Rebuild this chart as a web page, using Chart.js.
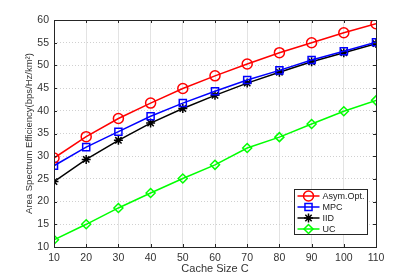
<!DOCTYPE html>
<html>
<head>
<meta charset="utf-8">
<title>Area Spectrum Efficiency vs Cache Size</title>
<script src="https://cdn.jsdelivr.net/npm/chart.js@4.4.0/dist/chart.umd.min.js"></script>
<style>
  html, body { margin: 0; padding: 0; background: #fff; }
  #wrap { width: 415px; height: 277px; position: relative; }
</style>
</head>
<body>
<div id="wrap"><canvas id="chart"></canvas></div>
<script>
// cache size C
const cacheSizes = [10, 20, 30, 40, 50, 60, 70, 80, 90, 100, 110];

// series values
const asymOpt = [29.6, 34.3, 38.3, 41.7, 44.9, 47.7, 50.3, 52.8, 55.0, 57.2, 59.2];
const mpc     = [27.9, 32.0, 35.4, 38.8, 41.7, 44.3, 46.8, 48.9, 51.2, 53.1, 55.1];
const iid     = [24.4, 29.3, 33.5, 37.3, 40.5, 43.4, 46.1, 48.5, 50.8, 52.8, 54.8];
const uc      = [11.6, 15.0, 18.6, 21.9, 25.1, 28.1, 31.8, 34.2, 37.1, 39.9, 42.3];

const seriesNames = ['Asym.Opt.', 'MPC', 'IID', 'UC'];
const seriesColors = ['#ff0000', '#0000ff', '#000000', '#00ff00'];
const seriesMarkers = ['circle', 'rect', 'star', 'rectRot'];
const seriesRadius = [5, 5, 4.5, 4.5];

const yTicks = [10, 15, 20, 25, 30, 35, 40, 45, 50, 55, 60];
const xTicks = [10, 20, 30, 40, 50, 60, 70, 80, 90, 100, 110];

const FONT = '"Liberation Sans", Arial, Helvetica, sans-serif';

function toPoints(values) {
    return cacheSizes.map((c, i) => ({ x: c, y: values[i] }));
}

const allSeries = [asymOpt, mpc, iid, uc];
const datasets = allSeries.map((vals, i) => ({
    label: seriesNames[i],
    data: toPoints(vals),
    borderColor: seriesColors[i],
    backgroundColor: 'transparent',
    borderWidth: 1.5,
    pointStyle: seriesMarkers[i],
    pointRadius: seriesRadius[i],
    pointBorderWidth: 1.5,
    pointBorderColor: seriesColors[i],
    pointBackgroundColor: 'transparent',
    tension: 0
}));

// box, inward ticks and the matlab-like legend inside the axes
const matlabFrame = {
    id: 'matlabFrame',
    afterDraw(chart) {
        const ctx = chart.ctx;
        const a = chart.chartArea;
        const xs = chart.scales.x, ys = chart.scales.y;
        ctx.save();
        ctx.strokeStyle = '#262626';
        ctx.lineWidth = 1;
        ctx.setLineDash([]);
        ctx.strokeRect(Math.round(a.left) + 0.5, Math.round(a.top) + 0.5,
            Math.round(a.right - a.left), Math.round(a.bottom - a.top));
        ctx.beginPath();
        xTicks.forEach(v => {
            const px = Math.round(xs.getPixelForValue(v)) + 0.5;
            ctx.moveTo(px, a.bottom); ctx.lineTo(px, a.bottom - 3);
            ctx.moveTo(px, a.top); ctx.lineTo(px, a.top + 3);
        });
        yTicks.forEach(v => {
            const py = Math.round(ys.getPixelForValue(v)) + 0.5;
            ctx.moveTo(a.left, py); ctx.lineTo(a.left + 3, py);
            ctx.moveTo(a.right, py); ctx.lineTo(a.right - 3, py);
        });
        ctx.stroke();

        // legend
        const boxW = 73, boxH = 45;
        const bx = Math.round(a.right - 9 - boxW) + 0.5;
        const by = Math.round(a.bottom - 13 - boxH) + 0.5;
        ctx.fillStyle = '#ffffff';
        ctx.fillRect(bx, by, boxW, boxH);
        ctx.strokeStyle = '#262626';
        ctx.strokeRect(bx, by, boxW, boxH);
        ctx.textBaseline = 'middle';
        ctx.textAlign = 'left';
        chart.data.datasets.forEach((ds, i) => {
            const ly = by + 6.5 + i * 11;
            const x0 = bx + 3, x1 = bx + 25;
            ctx.strokeStyle = ds.borderColor;
            ctx.lineWidth = 1.5;
            ctx.beginPath();
            ctx.moveTo(x0, ly); ctx.lineTo(x1, ly);
            ctx.stroke();
            ctx.fillStyle = 'rgba(0,0,0,0)';
            Chart.helpers.drawPoint(ctx, {
                pointStyle: ds.pointStyle,
                radius: ds.pointRadius,
                rotation: 0,
                borderWidth: 1.5
            }, (x0 + x1) / 2, ly);
            ctx.fillStyle = '#1a1a1a';
            ctx.font = '9px ' + FONT;
            ctx.fillText(ds.label, bx + 28, ly + 0.5);
        });
        ctx.restore();
    }
};

new Chart(document.getElementById('chart').getContext('2d'), {
    type: 'line',
    data: { datasets: datasets },
    options: {
        responsive: true,
        maintainAspectRatio: false,
        animation: false,
        layout: { padding: { left: 24, right: 39, top: 20, bottom: 1 } },
        plugins: {
            legend: { display: false },
            tooltip: { enabled: false }
        },
        scales: {
            x: {
                type: 'linear',
                min: 10,
                max: 110,
                afterBuildTicks: s => { s.ticks = xTicks.map(v => ({ value: v })); },
                afterFit: s => { s.height = 29; },
                grid: { color: '#e3e3e3', lineWidth: 1, drawTicks: false },
                border: { display: false },
                ticks: {
                    padding: 5,
                    color: '#333333',
                    font: { family: FONT, size: 10.5 },
                    maxRotation: 0
                },
                title: {
                    display: true,
                    text: 'Cache Size C',
                    color: '#333333',
                    font: { family: FONT, size: 11 },
                    padding: { top: 0, bottom: 0 }
                }
            },
            y: {
                type: 'linear',
                min: 10,
                max: 60,
                afterBuildTicks: s => {
                    const t = [];
                    for (let v = 10; v <= 60; v += 2.5) t.push({ value: v });
                    s.ticks = t;
                },
                afterFit: s => { s.width = 30; },
                grid: { color: '#d0d0d0', lineWidth: 1, drawTicks: false },
                border: { display: false, dash: [1, 2] },
                ticks: {
                    padding: 5,
                    color: '#333333',
                    font: { family: FONT, size: 10.5 },
                    callback: v => (yTicks.includes(v) ? String(v) : '')
                },
                title: {
                    display: true,
                    text: 'Area Spectrum Efficiency(bps/Hz/km²)',
                    color: '#333333',
                    font: { family: FONT, size: 9.5 },
                    padding: { top: 0, bottom: 0 }
                }
            }
        }
    },
    plugins: [matlabFrame]
});
</script>
</body>
</html>
